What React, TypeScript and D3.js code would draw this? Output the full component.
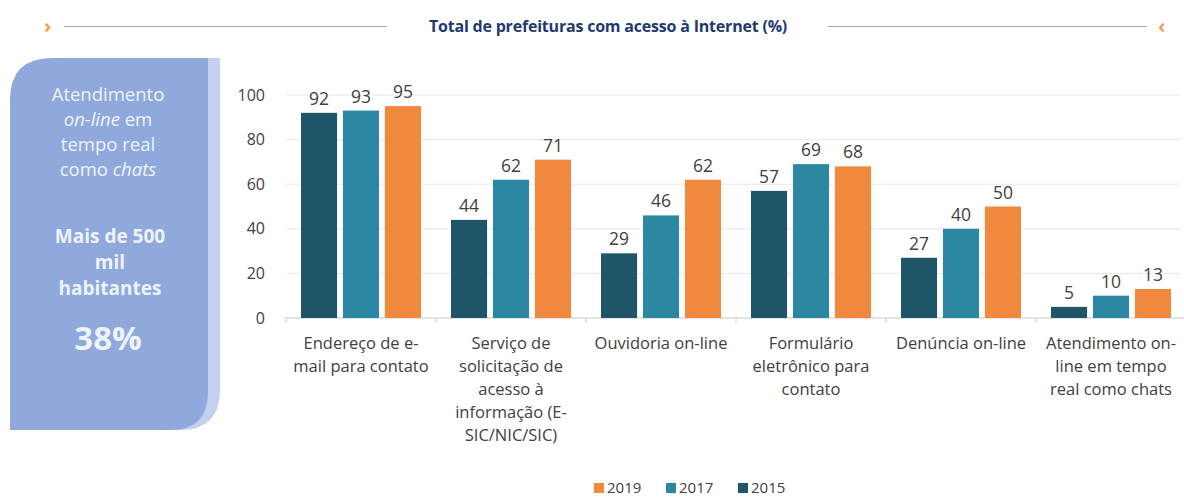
import React from "react";
import * as d3 from "d3";

const categories: string[][] = [
  ["Endereço de e-", "mail para contato"],
  ["Serviço de", "solicitação de", "acesso à", "informação (E-", "SIC/NIC/SIC)"],
  ["Ouvidoria on-line"],
  ["Formulário", "eletrônico para", "contato"],
  ["Denúncia on-line"],
  ["Atendimento on-", "line em tempo", "real como chats"],
];
const years = ["2015", "2017", "2019"];
const values2015 = [92, 44, 29, 57, 27, 5];
const values2017 = [93, 62, 46, 69, 40, 10];
const values2019 = [95, 71, 62, 68, 50, 13];
const yTicks = [0, 20, 40, 60, 80, 100];
const legendOrder = ["2019", "2017", "2015"];

const colors: Record<string, string> = {
  "2015": "#1e5567",
  "2017": "#2c87a2",
  "2019": "#f0883d",
};

const series: Record<string, number[]> = {
  "2015": values2015,
  "2017": values2017,
  "2019": values2019,
};

export default function App() {
  const W = 1184;
  const H = 500;
  const x0 = d3
    .scaleBand<number>()
    .domain(d3.range(categories.length))
    .range([286, 1186])
    .paddingInner(0.2)
    .paddingOuter(0.1);
  const x1 = d3.scaleBand<string>().domain(years).range([0, x0.bandwidth()]).paddingInner(0.14);
  const y = d3.scaleLinear().domain([0, 100]).range([318, 95]);
  const font = "'Open Sans', sans-serif";
  const step = x0.step();
  const boundaries = d3.range(categories.length + 1).map((i) => 286 + i * step);

  const legendX = d3.scalePoint<string>().domain(legendOrder).range([594, 738]);

  return (
    <svg width={W} height={H} style={{ position: "absolute", left: 0, top: 0, background: "#fff" }} fontFamily={font}>
      {/* header */}
      <text x={44} y={33} fill="#f0a050" fontSize={20} fontWeight="bold">›</text>
      <line x1={64} x2={387} y1={26.5} y2={26.5} stroke="#a6a6a6" strokeWidth={1} />
      <text x={608} y={32} textAnchor="middle" fill="#1f3a6e" fontSize={16} fontWeight="bold" letterSpacing={-0.2}>
        Total de prefeituras com acesso à Internet (%)
      </text>
      <line x1={828} x2={1147} y1={26.5} y2={26.5} stroke="#a6a6a6" strokeWidth={1} />
      <text x={1158} y={33} fill="#f0a050" fontSize={20} fontWeight="bold">‹</text>

      {/* left panel */}
      <path d="M 58 58 L 220 58 L 220 390 Q 220 430 180 430 L 12 430 L 12 104 Q 12 58 58 58 Z" fill="#c3d1ee" />
      <path d="M 52 58 L 208 58 L 208 392 Q 208 430 170 430 L 10 430 L 10 100 Q 10 58 52 58 Z" fill="#8fa9dc" />
      <g fill="#eef3fb" textAnchor="middle" fontSize={18.5}>
        <text x={108} y={101}>Atendimento</text>
        <text x={108} y={126}><tspan fontStyle="italic">on-line</tspan> em</text>
        <text x={108} y={151}>tempo real</text>
        <text x={108} y={176}>como <tspan fontStyle="italic">chats</tspan></text>
        <g fontWeight="bold" fontSize={19}>
          <text x={110} y={243}>Mais de 500</text>
          <text x={110} y={269}>mil</text>
          <text x={110} y={295}>habitantes</text>
        </g>
        <text x={108} y={350} fontWeight="bold" fontSize={33}>38%</text>
      </g>

      {/* gridlines */}
      {yTicks.map((t) => (
        <g key={t}>
          {t > 0 && <line x1={286} x2={1180} y1={y(t)} y2={y(t)} stroke="#e6e6e6" strokeWidth={1} />}
          <text x={265} y={y(t) + 5.5} textAnchor="end" fill="#404040" fontSize={16}>{t}</text>
        </g>
      ))}
      <line x1={286} x2={1184} y1={y(0)} y2={y(0)} stroke="#c8c8c8" strokeWidth={1} />
      {boundaries.map((b, i) => (
        <line key={i} x1={b} x2={b} y1={y(0)} y2={y(0) + 5} stroke="#c8c8c8" strokeWidth={1} />
      ))}

      {/* bars */}
      {categories.map((_, ci) => (
        <g key={ci} transform={`translate(${x0(ci)},0)`}>
          {years.map((yr) => {
            const v = series[yr][ci];
            const bx = x1(yr)!;
            return (
              <g key={yr}>
                <rect x={bx} y={y(v)} width={x1.bandwidth()} height={y(0) - y(v)} fill={colors[yr]} />
                <text x={bx + x1.bandwidth() / 2} y={y(v) - 8} textAnchor="middle" fill="#404040" fontSize={17.5}>
                  {v}
                </text>
              </g>
            );
          })}
        </g>
      ))}

      {/* category labels */}
      {categories.map((lines, ci) => (
        <text key={ci} textAnchor="middle" fill="#404040" fontSize={16.5}>
          {lines.map((ln, li) => (
            <tspan key={li} x={x0(ci)! + x0.bandwidth() / 2} y={349 + li * 23}>
              {ln}
            </tspan>
          ))}
        </text>
      ))}

      {/* legend */}
      {legendOrder.map((yr) => (
        <g key={yr} transform={`translate(${legendX(yr)},0)`}>
          <rect x={0} y={483} width={10} height={10} fill={colors[yr]} />
          <text x={13} y={493} fill="#404040" fontSize={15}>{yr}</text>
        </g>
      ))}
    </svg>
  );
}
